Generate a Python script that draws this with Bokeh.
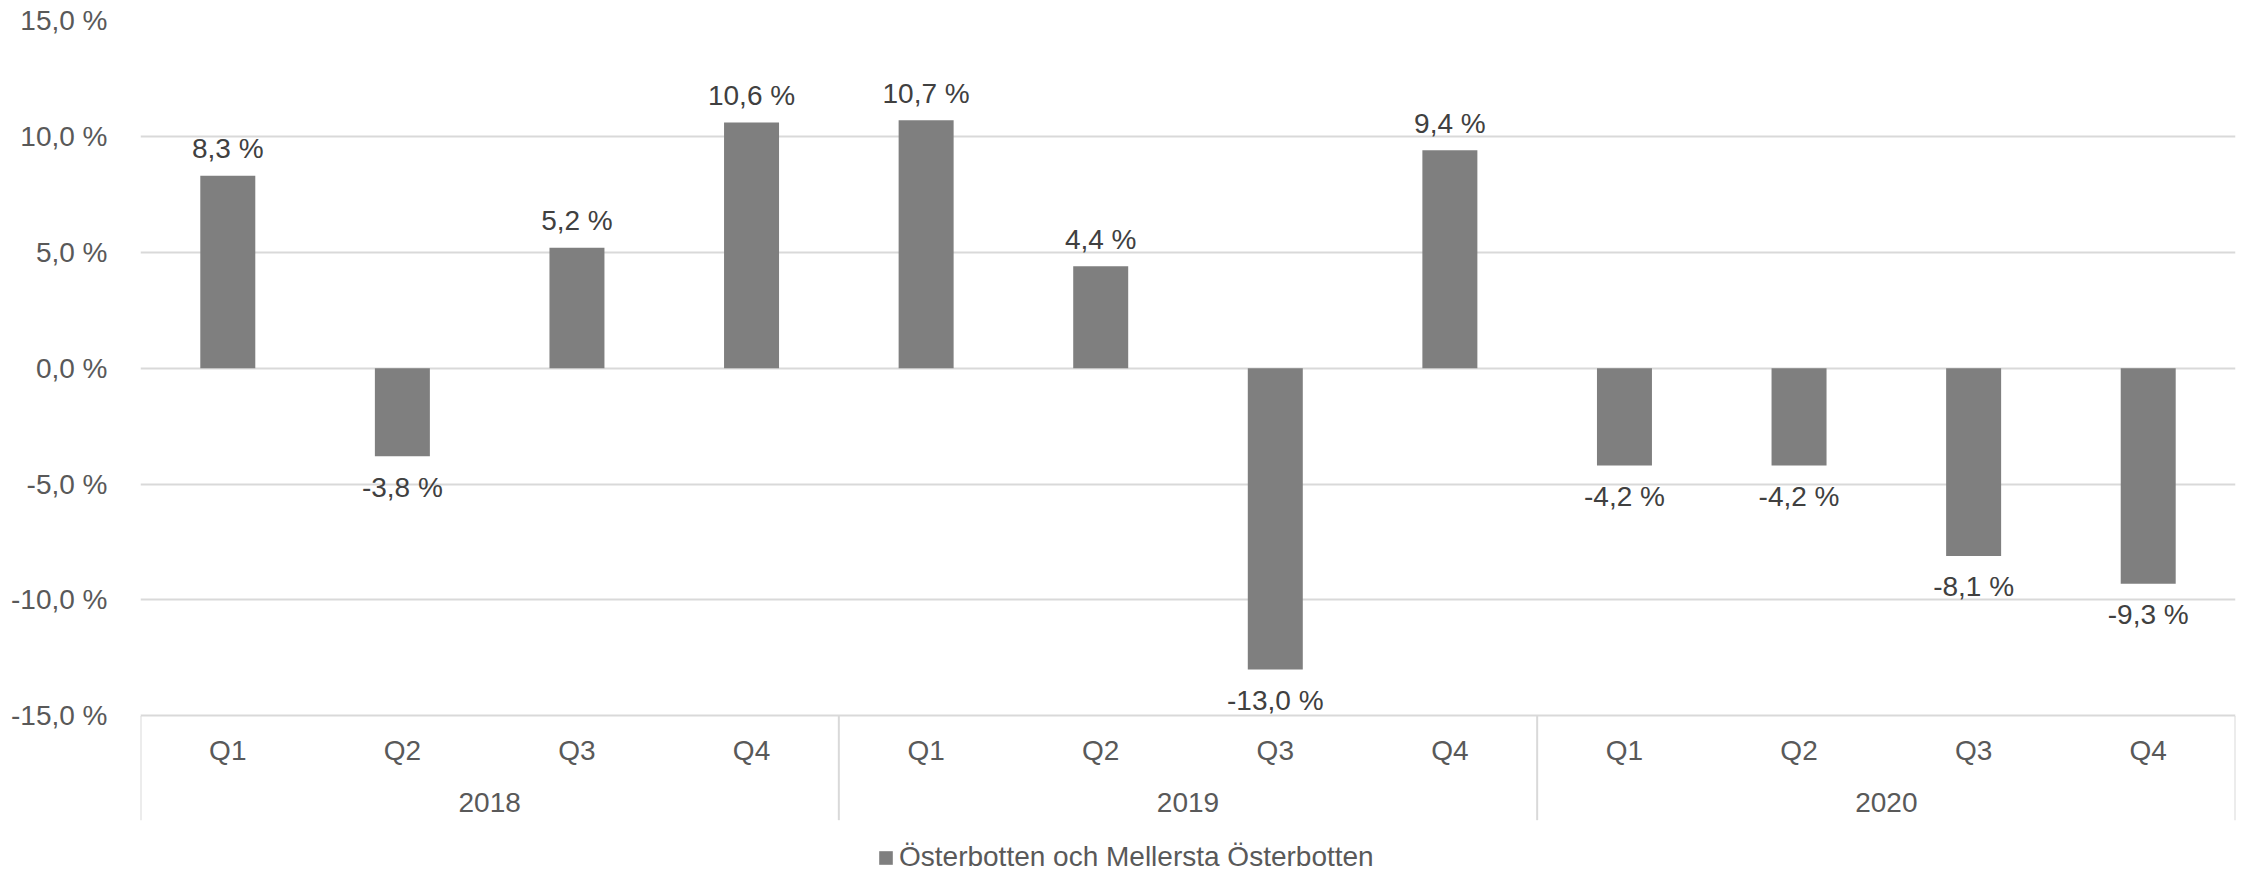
from bokeh.plotting import figure
from bokeh.models import FactorRange, Range1d, FixedTicker, ColumnDataSource
from bokeh.core.properties import value
from bokeh.embed import file_html
from bokeh.resources import INLINE

# ---- data ----
years = ["2018", "2019", "2020"]
quarters = ["Q1", "Q2", "Q3", "Q4"]
values = [8.3, -3.8, 5.2, 10.6, 10.7, 4.4, -13.0, 9.4, -4.2, -4.2, -8.1, -9.3]
y_ticks = [-15, -10, -5, 0, 5, 10, 15]
series_name = "Österbotten och Mellersta Österbotten"

# ---- style ----
FONT = "Liberation Sans"
BAR = "#7f7f7f"
GRID = "#d9d9d9"
AXIS_TXT = "#595959"
LBL_TXT = "#404040"
FS = "28px"


def fmt(v):
    return f"{v:.1f}".replace(".", ",") + " %"


factors = [(y, q) for y in years for q in quarters]

p = figure(
    width=2251, height=873,
    output_backend="svg", toolbar_location=None,
    x_range=FactorRange(factors=factors, factor_padding=0, group_padding=0,
                        subgroup_padding=0, range_padding=0),
    y_range=Range1d(-21.80, 15),
    x_axis_location=None,
    min_border_left=140, min_border_right=16, min_border_top=20, min_border_bottom=0,
)
p.outline_line_color = None
p.background_fill_color = "white"
p.border_fill_color = "white"

# y axis
p.yaxis.ticker = FixedTicker(ticks=y_ticks)
p.yaxis.major_label_overrides = {t: fmt(t) for t in y_ticks}
p.yaxis.axis_line_color = None
p.yaxis.major_tick_line_color = None
p.yaxis.minor_tick_line_color = None
p.yaxis.major_label_standoff = 27
p.yaxis.major_label_text_font = FONT
p.yaxis.major_label_text_font_size = FS
p.yaxis.major_label_text_color = AXIS_TXT

p.xgrid.visible = False
p.ygrid.ticker = FixedTicker(ticks=y_ticks)
p.ygrid.grid_line_color = GRID
p.ygrid.grid_line_width = 2

src = ColumnDataSource(dict(
    x=factors,
    v=values,
    lab=[fmt(v) for v in values],
    yo=[-27 if v >= 0 else 31 for v in values],
))

p.vbar(x="x", top="v", width=0.315, source=src, fill_color=BAR, line_color=None,
       legend_label=series_name)

p.text(x="x", y="v", text="lab", y_offset="yo", source=src,
       text_align="center", text_baseline="middle",
       text_font=value(FONT), text_font_size=FS, text_color=LBL_TXT)

# category axis drawn beneath the -15 line
axis_base = y_ticks[0]
q_src = ColumnDataSource(dict(x=factors, y=[axis_base] * len(factors),
                              t=[q for _, q in factors]))
p.text(x="x", y="y", text="t", y_offset=35, source=q_src,
       text_align="center", text_baseline="middle",
       text_font=value(FONT), text_font_size=FS, text_color=AXIS_TXT)

y_src = ColumnDataSource(dict(x=years, y=[axis_base] * len(years), t=years))
p.text(x="x", y="y", text="t", y_offset=87, source=y_src,
       text_align="center", text_baseline="middle",
       text_font=value(FONT), text_font_size=FS, text_color=AXIS_TXT)

bounds = [i * len(quarters) for i in range(len(years) + 1)]
sep_end = axis_base - 4.5
p.segment(x0=bounds, x1=bounds, y0=[axis_base] * len(bounds), y1=[sep_end] * len(bounds),
          line_color=GRID, line_width=2)

# legend
lg = p.legend[0]
lg.location = (737, 0)
lg.orientation = "horizontal"
lg.label_text_font = FONT
lg.label_text_font_size = FS
lg.label_text_color = AXIS_TXT
lg.glyph_width = 17
lg.glyph_height = 17
lg.label_standoff = 5
lg.padding = 0
lg.margin = 0
lg.border_line_color = None
lg.background_fill_alpha = 0

open("out.html", "w").write(file_html(p, INLINE))
